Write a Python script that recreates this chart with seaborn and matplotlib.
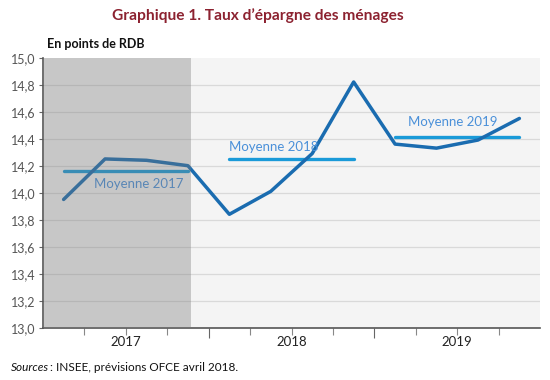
import matplotlib
matplotlib.use("Agg")
import matplotlib.pyplot as plt
import matplotlib.transforms as mtransforms
from matplotlib.ticker import FuncFormatter
import seaborn as sns
import pandas as pd

# ---- data ----
quarters = ["2017T1", "2017T2", "2017T3", "2017T4",
            "2018T1", "2018T2", "2018T3", "2018T4",
            "2019T1", "2019T2", "2019T3", "2019T4"]
taux = [13.95, 14.25, 14.24, 14.20,
        13.84, 14.01, 14.29, 14.82,
        14.36, 14.33, 14.39, 14.55]
years = ["2017", "2018", "2019"]
moyennes = [14.16, 14.25, 14.41]
mean_labels = ["Moyenne 2017", "Moyenne 2018", "Moyenne 2019"]
y_ticks = [13.0, 13.2, 13.4, 13.6, 13.8, 14.0, 14.2, 14.4, 14.6, 14.8, 15.0]

sns.set_theme(style="white")
plt.rcParams["font.family"] = ["Lato", "DejaVu Sans"]

df = pd.DataFrame({"q": range(len(quarters)), "taux": taux})

fig = plt.figure(figsize=(5.5, 3.8), dpi=100)
ax = fig.add_axes([0.078, 0.1376, 0.904, 0.7106])
ax.set_facecolor("#f4f4f4")

# grid
for v in y_ticks[1:-1]:
    ax.axhline(v, color="#d9d9d9", lw=0.9, zorder=0.5)

# main series
sns.lineplot(data=df, x="q", y="taux", ax=ax, color="#1a6cb0", lw=2.5,
             zorder=3, legend=False)

# yearly means
for i, (yr, m) in enumerate(zip(years, moyennes)):
    seg = pd.DataFrame({"q": [4 * i, 4 * i + 3], "v": [m, m]})
    sns.lineplot(data=seg, x="q", y="v", ax=ax, color="#1a9ad8", lw=2.4,
                 zorder=2.5, legend=False)

# mean labels
ax.text(1.8, 14.065, mean_labels[0], color="#4a90d9", fontsize=9.5,
        ha="center", va="center", zorder=4)
ax.text(4.0, 14.34, mean_labels[1], color="#4a90d9", fontsize=9.5,
        ha="left", va="center", zorder=4)
ax.text(8.32, 14.52, mean_labels[2], color="#4a90d9", fontsize=9.5,
        ha="left", va="center", zorder=4)

# grey shaded 2017 (overlay)
ax.axvspan(-0.5, 3.07, color="#757575", alpha=0.35, lw=0, zorder=5)

ax.set_xlim(-0.5, 11.5)
ax.set_ylim(13.0, 15.0)
ax.set_yticks(y_ticks)
ax.yaxis.set_major_formatter(FuncFormatter(lambda v, p: f"{v:.1f}".replace(".", ",")))
ax.tick_params(axis="y", left=True, length=3, width=0.8, color="#666",
               labelsize=9, labelcolor="#555", pad=2)

# x ticks: quarter boundaries
ax.set_xticks([3.5, 7.5])
ax.set_xticks([0.5, 1.5, 2.5, 4.5, 5.5, 6.5, 8.5, 9.5, 10.5], minor=True)
ax.set_xticklabels([])
ax.tick_params(axis="x", which="major", bottom=True, length=7, width=0.8, color="#666")
ax.tick_params(axis="x", which="minor", bottom=True, length=5, width=0.8, color="#888")
ax.set_xlabel("")
ax.set_ylabel("")

trans = mtransforms.blended_transform_factory(ax.transData, ax.transAxes)
for i, yr in enumerate(years):
    ax.text(4 * i + 1.5, -0.03, yr, transform=trans, ha="center", va="top",
            fontsize=9.5, color="#222")

for s in ["top", "right"]:
    ax.spines[s].set_visible(False)
for s in ["left", "bottom"]:
    ax.spines[s].set_color("#555")
    ax.spines[s].set_linewidth(1.2)

fig.text(0.468, 0.958, "Graphique 1. Taux d\u2019épargne des ménages", ha="center",
         va="center", fontsize=11.2, fontweight="bold", color="#8c2230")
fig.text(0.085, 0.884, "En points de RDB", ha="left", va="center", fontsize=9,
         fontweight="bold", color="#111")
fig.text(0.02, 0.034, "Sources", ha="left", va="center", fontsize=8.5,
         style="italic", color="#111")
fig.text(0.09, 0.034, ": INSEE, prévisions OFCE avril 2018.", ha="left",
         va="center", fontsize=8.5, color="#111")

fig.savefig("out.png", dpi=100)
